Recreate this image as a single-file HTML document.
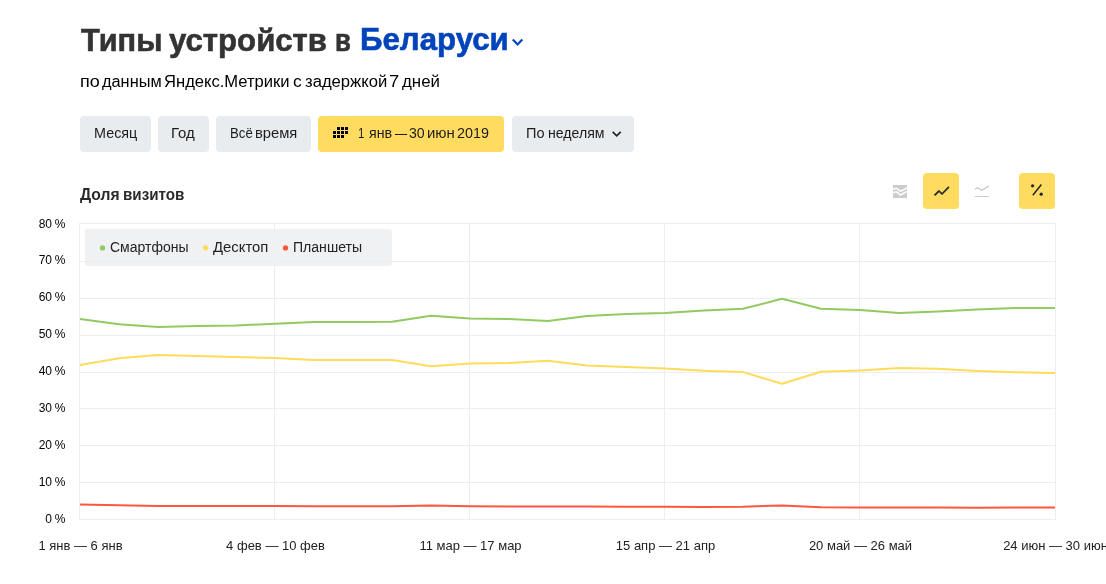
<!DOCTYPE html>
<html lang="ru">
<head>
<meta charset="utf-8">
<title>Типы устройств в Беларуси</title>
<style>
html,body{margin:0;padding:0;background:#fff;}
body{width:1106px;height:584px;position:relative;overflow:hidden;font-family:"Liberation Sans",Arial,sans-serif;color:#000;}
.g{position:absolute;left:0;top:0;margin:0;padding:0;font-weight:normal;font-size:16px;}
.w{position:absolute;white-space:nowrap;line-height:40px;transform-origin:0 50%;}
.btn{position:absolute;top:116px;height:36px;border-radius:4px;background:#e8ecef;}
.btn.on{background:#ffdc60;}
.ib{position:absolute;top:173px;width:36px;height:36px;border-radius:4px;}
.ib.on{background:#ffdc60;}
.yl{position:absolute;left:0;width:65.5px;text-align:right;font-size:12px;line-height:20px;color:#000;white-space:nowrap;word-spacing:-0.5px;}
.xl{position:absolute;top:536px;width:200px;text-align:center;font-size:13px;line-height:20px;color:#222;white-space:nowrap;}
.legend{position:absolute;left:85px;top:229px;width:307px;height:37px;border-radius:3px;background:rgba(236,238,240,0.85);}
.legend .it{position:absolute;top:8px;font-size:14px;line-height:20px;color:#333;white-space:nowrap;}
.legend .dot{position:absolute;top:16.3px;width:5.3px;height:5.3px;border-radius:50%;}
svg{position:absolute;left:0;top:0;}
</style>
</head>
<body>

<h1 class="g title"><span class="w" style="left:80.74px;top:20px;font-size:32px;transform:scaleX(0.9622);font-weight:bold;-webkit-text-stroke:0.6px #333;color:#333">Типы</span> <span class="w" style="left:168.66px;top:20px;font-size:32px;transform:scaleX(0.9728);font-weight:bold;-webkit-text-stroke:0.6px #333;color:#333">устройств</span> <span class="w" style="left:334.59px;top:20px;font-size:32px;transform:scaleX(0.8062);font-weight:bold;-webkit-text-stroke:0.6px #333;color:#333">в</span> <span class="w" style="left:359.73px;top:19px;font-size:32px;transform:scaleX(0.9755);font-weight:bold;-webkit-text-stroke:0.6px #0044bb;color:#0044bb">Беларуси</span></h1>
<div class="g sub"><span class="w" style="left:80.14px;top:62px;font-size:16px;transform:scaleX(1.1238)">по</span> <span class="w" style="left:101.87px;top:62px;font-size:16px;transform:scaleX(1.0206)">данным</span> <span class="w" style="left:164.12px;top:62px;font-size:16px;transform:scaleX(1.0362)">Яндекс.Метрики</span> <span class="w" style="left:292.62px;top:62px;font-size:16px;transform:scaleX(1.0857)">с</span> <span class="w" style="left:304.61px;top:62px;font-size:16px;transform:scaleX(1.0396)">задержкой</span> <span class="w" style="left:389.30px;top:62px;font-size:16px;transform:scaleX(1.1448)">7</span> <span class="w" style="left:401.57px;top:62px;font-size:16px;transform:scaleX(1.0532)">дней</span></div>
<div class="btn" style="left:80px;width:71px"></div>
<div class="btn" style="left:158px;width:51px"></div>
<div class="btn" style="left:216px;width:95px"></div>
<div class="btn on" style="left:318px;width:186px"></div>
<div class="btn" style="left:512px;width:122px"></div>
<div class="g bt"><span class="w" style="left:93.70px;top:113px;font-size:15px;transform:scaleX(0.9582);color:#1c1c1c">Месяц</span></div>
<div class="g bt"><span class="w" style="left:170.75px;top:113px;font-size:15px;transform:scaleX(0.9966);color:#1c1c1c">Год</span></div>
<div class="g bt"><span class="w" style="left:229.60px;top:113px;font-size:15px;transform:scaleX(0.8796);color:#1c1c1c">Всё</span> <span class="w" style="left:255.12px;top:113px;font-size:15px;transform:scaleX(0.9829);color:#1c1c1c">время</span></div>
<div class="g bt"><span class="w" style="left:358.43px;top:113px;font-size:15px;transform:scaleX(0.7692);color:#1c1c1c">1</span> <span class="w" style="left:368.88px;top:113px;font-size:15px;transform:scaleX(0.9481);color:#1c1c1c">янв</span> <span class="w" style="left:395.00px;top:113px;font-size:15px;transform:scaleX(0.8067);color:#1c1c1c">—</span> <span class="w" style="left:409.11px;top:113px;font-size:15px;transform:scaleX(0.9419);color:#1c1c1c">30</span> <span class="w" style="left:427.31px;top:113px;font-size:15px;transform:scaleX(0.9932);color:#1c1c1c">июн</span> <span class="w" style="left:457.38px;top:113px;font-size:15px;transform:scaleX(0.9569);color:#1c1c1c">2019</span></div>
<div class="g bt"><span class="w" style="left:526.39px;top:113px;font-size:15px;transform:scaleX(0.9681);color:#1c1c1c">По</span> <span class="w" style="left:548.36px;top:113px;font-size:15px;transform:scaleX(0.9414);color:#1c1c1c">неделям</span></div>
<h2 class="g h2"><span class="w" style="left:79.88px;top:175px;font-size:16px;transform:scaleX(0.9783);font-weight:bold;color:#2a2a2a">Доля</span> <span class="w" style="left:122.53px;top:175px;font-size:16px;transform:scaleX(0.9492);font-weight:bold;color:#2a2a2a">визитов</span></h2>
<div class="ib" style="left:882px"></div>
<div class="ib on" style="left:923px"></div>
<div class="ib" style="left:964px"></div>
<div class="ib on" style="left:1019px"></div>

<svg width="1106" height="584" viewBox="0 0 1106 584">
<rect x="79" y="223" width="977" height="1" fill="#eceef0"/>
<rect x="79" y="261" width="977" height="1" fill="#eceef0"/>
<rect x="79" y="298" width="977" height="1" fill="#eceef0"/>
<rect x="79" y="335" width="977" height="1" fill="#eceef0"/>
<rect x="79" y="372" width="977" height="1" fill="#eceef0"/>
<rect x="79" y="408" width="977" height="1" fill="#eceef0"/>
<rect x="79" y="445" width="977" height="1" fill="#eceef0"/>
<rect x="79" y="482" width="977" height="1" fill="#eceef0"/>
<rect x="79" y="519" width="977" height="1" fill="#eceef0"/>
<rect x="79" y="223" width="1" height="297" fill="#eceef0"/>
<rect x="274" y="223" width="1" height="297" fill="#eceef0"/>
<rect x="469" y="223" width="1" height="297" fill="#eceef0"/>
<rect x="664" y="223" width="1" height="297" fill="#eceef0"/>
<rect x="859" y="223" width="1" height="297" fill="#eceef0"/>
<rect x="1055" y="223" width="1" height="297" fill="#eceef0"/>
<path d="M80.0 319.0 L119.0 324.3 L158.0 326.9 L197.0 326.0 L236.0 325.5 L275.0 323.7 L314.0 322.0 L353.0 321.9 L392.0 321.8 L431.0 315.7 L470.0 318.4 L509.0 319.0 L548.0 320.9 L587.0 316.0 L626.0 313.9 L665.0 312.9 L704.0 310.4 L743.0 308.8 L782.0 298.8 L821.0 308.7 L860.0 310.0 L899.0 312.9 L938.0 311.6 L977.0 309.6 L1016.0 308.1 L1055.0 307.9" fill="none" stroke="#92c961" stroke-width="2" stroke-linejoin="round"/>
<path d="M80.0 365.0 L119.0 358.3 L158.0 355.1 L197.0 355.9 L236.0 356.9 L275.0 358.1 L314.0 360.0 L353.0 360.0 L392.0 360.0 L431.0 366.3 L470.0 363.6 L509.0 362.9 L548.0 360.8 L587.0 365.4 L626.0 367.1 L665.0 368.6 L704.0 370.7 L743.0 372.1 L782.0 383.8 L821.0 371.7 L860.0 370.5 L899.0 367.9 L938.0 368.7 L977.0 370.9 L1016.0 372.3 L1055.0 372.9" fill="none" stroke="#ffdb5c" stroke-width="2" stroke-linejoin="round"/>
<path d="M80.0 504.6 L119.0 505.3 L158.0 506.0 L197.0 506.0 L236.0 506.0 L275.0 506.0 L314.0 506.2 L353.0 506.2 L392.0 506.2 L431.0 505.6 L470.0 506.2 L509.0 506.4 L548.0 506.5 L587.0 506.6 L626.0 506.7 L665.0 506.7 L704.0 507.0 L743.0 506.7 L782.0 505.4 L821.0 507.3 L860.0 507.4 L899.0 507.4 L938.0 507.4 L977.0 507.7 L1016.0 507.4 L1055.0 507.4" fill="none" stroke="#fd583c" stroke-width="2" stroke-linejoin="round"/>
</svg>
<svg width="1106" height="584" viewBox="0 0 1106 584">
<path d="M512.8 39.5 L517.55 44.4 L522.3 39.5" fill="none" stroke="#0044bb" stroke-width="2.2"/>
<path d="M612.7 131.8 L616.7 135.8 L620.7 131.8" fill="none" stroke="#222" stroke-width="1.7"/>
<rect x="337" y="127" width="3" height="3" fill="#000"/>
<rect x="341" y="127" width="3" height="3" fill="#000"/>
<rect x="345" y="127" width="3" height="3" fill="#000"/>
<rect x="333" y="131" width="3" height="3" fill="#000"/>
<rect x="337" y="131" width="3" height="3" fill="#000"/>
<rect x="341" y="131" width="3" height="3" fill="#000"/>
<rect x="345" y="131" width="3" height="3" fill="#000"/>
<rect x="333" y="135" width="3" height="3" fill="#000"/>
<rect x="337" y="135" width="3" height="3" fill="#000"/>
<rect x="341" y="135" width="3" height="3" fill="#000"/>
<rect x="893" y="185" width="14" height="13" fill="#cccccc"/>
<path d="M892.5 189.2 L896.5 188.2 L900.5 191.4 L907.5 187.6" fill="none" stroke="#fff" stroke-width="1.5"/>
<path d="M892.5 192.8 L896.5 191.8 L900.5 195 L907.5 191.2" fill="none" stroke="#fff" stroke-width="1.5"/>
<path d="M934.5 195.3 L939 191 L942 194 L948.9 186.8" fill="none" stroke="#23282f" stroke-width="1.75" stroke-linejoin="round"/>
<path d="M975 189.2 L977.6 187.9 L981.9 190.2 L989 186.1" fill="none" stroke="#cccccc" stroke-width="1.5" stroke-linejoin="round"/>
<rect x="975" y="196" width="14" height="1" fill="#cccccc"/>
<path d="M1032.8 195.2 L1041.4 184.6" fill="none" stroke="#23282f" stroke-width="1.6"/>
<circle cx="1032.6" cy="185.8" r="1.65" fill="#23282f"/>
<circle cx="1041.2" cy="194.2" r="1.65" fill="#23282f"/>
</svg>
<div class="yl" style="top:214px">80 %</div>
<div class="yl" style="top:250px">70 %</div>
<div class="yl" style="top:287px">60 %</div>
<div class="yl" style="top:324px">50 %</div>
<div class="yl" style="top:361px">40 %</div>
<div class="yl" style="top:398px">30 %</div>
<div class="yl" style="top:435px">20 %</div>
<div class="yl" style="top:472px">10 %</div>
<div class="yl" style="top:509px">0 %</div>
<div class="xl" style="left:-19.5px">1 янв — 6 янв</div>
<div class="xl" style="left:175.5px">4 фев — 10 фев</div>
<div class="xl" style="left:370.5px">11 мар — 17 мар</div>
<div class="xl" style="left:565.5px">15 апр — 21 апр</div>
<div class="xl" style="left:760.5px">20 май — 26 май</div>
<div class="xl" style="left:955.5px">24 июн — 30 июн</div>
<div class="legend"></div>
<svg width="1106" height="584" viewBox="0 0 1106 584">
<circle cx="102.5" cy="247.9" r="2.65" fill="#92c961"/>
<circle cx="205.55" cy="247.85" r="2.65" fill="#ffdb5c"/>
<circle cx="285.5" cy="247.9" r="2.65" fill="#fd583c"/>
</svg>
<div class="g lg"><span class="w" style="left:109.55px;top:227px;font-size:14px;transform:scaleX(1.0007);color:#222">Смартфоны</span> <span class="w" style="left:212.97px;top:227px;font-size:14px;transform:scaleX(1.0601);color:#222">Десктоп</span> <span class="w" style="left:292.57px;top:227px;font-size:14px;transform:scaleX(1.0041);color:#222">Планшеты</span></div>
</body>
</html>
